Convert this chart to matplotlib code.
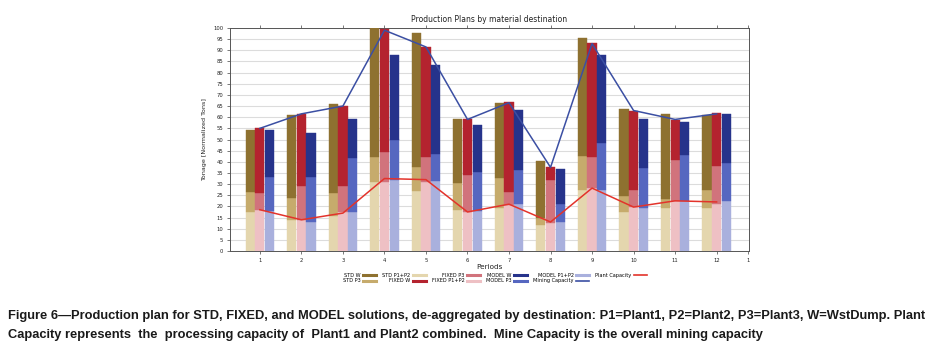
import matplotlib
matplotlib.use("Agg")
import matplotlib.pyplot as plt
from matplotlib.lines import Line2D
import numpy as np

periods = np.arange(1, 13)
std_p12 = [17.3, 14.1, 15.9, 31.0, 26.7, 18.2, 19.5, 11.7, 27.2, 17.3, 19.5, 19.5]
std_p3 = [9.1, 9.6, 9.9, 11.0, 10.8, 12.3, 13.2, 3.0, 15.3, 7.5, 3.9, 7.8]
std_w = [27.7, 37.4, 40.1, 58.0, 60.2, 28.8, 33.5, 25.5, 53.0, 39.0, 38.0, 33.8]
fixed_p12 = [18.5, 13.7, 17.3, 31.0, 30.8, 17.3, 20.7, 12.5, 28.2, 19.7, 22.2, 21.3]
fixed_p3 = [7.5, 15.3, 11.7, 13.5, 11.4, 16.8, 5.7, 19.5, 13.8, 7.6, 18.6, 17.0]
fixed_w = [29.0, 32.4, 36.0, 55.0, 49.1, 24.9, 40.3, 5.5, 51.1, 35.6, 17.9, 23.7]
model_p12 = [18.0, 13.1, 17.7, 31.7, 31.2, 18.0, 21.2, 13.1, 27.5, 19.5, 22.2, 22.5]
model_p3 = [15.0, 20.1, 23.9, 18.3, 12.5, 17.3, 15.0, 8.1, 20.8, 17.7, 20.9, 17.1]
model_w = [21.2, 19.8, 17.6, 37.8, 39.8, 21.0, 26.9, 15.4, 39.5, 22.0, 14.9, 22.0]
mining_cap = [55.0, 61.5, 65.0, 99.0, 91.5, 59.0, 66.5, 37.5, 93.0, 63.0, 59.0, 61.5]
plant_cap = [18.5, 14.0, 17.0, 32.5, 32.0, 17.5, 21.0, 13.0, 28.2, 19.7, 22.5, 22.0]
xtick_labels = [str(p) for p in periods] + ["1"]

colors = {
    "std": ["#E4D6AE", "#C6AB6C", "#8E7130"],
    "fixed": ["#EEC0C4", "#D1737C", "#B4232F"],
    "model": ["#A9B0DD", "#5667C0", "#26338B"],
}
mining_color = "#3B4FA3"
plant_color = "#E3332B"

fig = plt.figure(figsize=(9.31, 3.54), dpi=100)
ax = fig.add_axes([230 / 931, 1 - 251 / 354, (749 - 230) / 931, (251 - 28) / 354])

w = 0.22
off = 0.232
series = [
    ("std", -off, [std_p12, std_p3, std_w]),
    ("fixed", 0.0, [fixed_p12, fixed_p3, fixed_w]),
    ("model", off, [model_p12, model_p3, model_w]),
]
for key, dx, parts in series:
    bottom = np.zeros(len(periods))
    for i, vals in enumerate(parts):
        ax.bar(periods + dx, vals, width=w, bottom=bottom, color=colors[key][i],
               edgecolor=colors[key][i], linewidth=0.3, zorder=3)
        bottom = bottom + np.array(vals)

ax.plot(periods, mining_cap, color=mining_color, lw=1.1, zorder=4)
ax.plot(periods, plant_cap, color=plant_color, lw=1.1, zorder=4)

ax.set_xlim(0.28, 12.78)
ax.set_ylim(0, 100)
ax.set_yticks(np.arange(0, 101, 5))
ax.set_xticks(list(periods) + [12.75])
ax.set_xticklabels(xtick_labels)
ax.tick_params(axis="both", labelsize=3.8, length=2, width=0.5, colors="#444444",
               labelcolor="#222222", pad=3)
ax.tick_params(axis="x", top=True)
ax.yaxis.grid(True, color="#dcdcdc", lw=0.8, zorder=0)
ax.set_axisbelow(True)
for s in ax.spines.values():
    s.set_color("#555555")
    s.set_linewidth(0.7)

ax.set_ylabel("Tonage [Normalized Tons]", fontsize=4.6, labelpad=4, color="#222222")
ax.set_xlabel("Periods", fontsize=5.2, labelpad=1, color="#222222")
ax.set_title("Production Plans by material destination", fontsize=5.5, pad=4, color="#222222")

handles = [
    Line2D([], [], color=colors["std"][2], lw=2.2),
    Line2D([], [], color=colors["std"][1], lw=2.2),
    Line2D([], [], color=colors["std"][0], lw=2.2),
    Line2D([], [], color=colors["fixed"][2], lw=2.2),
    Line2D([], [], color=colors["fixed"][1], lw=2.2),
    Line2D([], [], color=colors["fixed"][0], lw=2.2),
    Line2D([], [], color=colors["model"][2], lw=2.2),
    Line2D([], [], color=colors["model"][1], lw=2.2),
    Line2D([], [], color=colors["model"][0], lw=2.2),
    Line2D([], [], color=mining_color, lw=1.2),
    Line2D([], [], color=plant_color, lw=1.2),
]
labels = ["STD W", "STD P3", "STD P1+P2", "FIXED W", "FIXED P3", "FIXED P1+P2",
          "MODEL W", "MODEL P3", "MODEL P1+P2", "Mining Capacity", "Plant Capacity"]
fig.legend(handles, labels, ncol=6, loc="center", bbox_to_anchor=(495 / 931, 1 - 278 / 354),
           fontsize=3.6, frameon=False, markerfirst=False, handlelength=2.6,
           columnspacing=1.2, handletextpad=0.5, labelspacing=0.15)

cap1 = ("Figure 6\u2014Production plan for STD, FIXED, and MODEL solutions, de-aggregated by destination: "
        "P1=Plant1, P2=Plant2, P3=Plant3, W=WstDump. Plant")
cap2 = ("Capacity represents  the  processing capacity of  Plant1 and Plant2 combined.  "
        "Mine Capacity is the overall mining capacity")
t1 = fig.text(8 / 931, 1 - 316 / 354, cap1, fontsize=10, fontweight="bold",
              family=["Liberation Sans", "DejaVu Sans"], va="center", ha="left", color="#1a1a1a")
t2 = fig.text(8 / 931, 1 - 335 / 354, cap2, fontsize=10, fontweight="bold",
              family=["Liberation Sans", "DejaVu Sans"], va="center", ha="left", color="#1a1a1a")
fig.canvas.draw()
r = fig.canvas.get_renderer()
wpx = t1.get_window_extent(r).width
fs = 10 * 917 / wpx
t1.set_fontsize(fs)
t2.set_fontsize(fs)

fig.savefig("out.png", dpi=100, facecolor="white")
